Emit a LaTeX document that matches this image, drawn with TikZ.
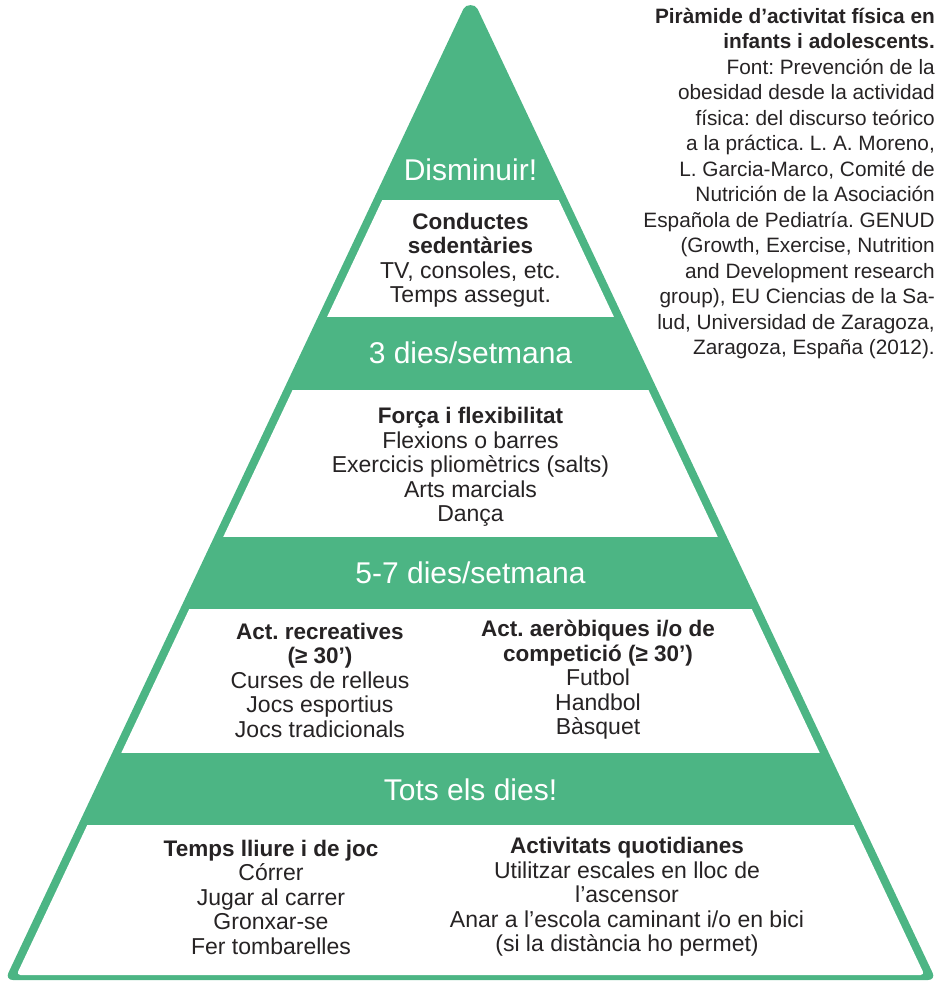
\documentclass[tikz,border=0pt]{standalone}
\usepackage{fontspec}
\setmainfont{Liberation Sans}
\frenchspacing

\definecolor{pyrgreen}{HTML}{4CB584}
\definecolor{pyrtext}{HTML}{262324}

\newcommand{\hd}[1]{{\fontsize{22.5}{24.5}\selectfont\bfseries #1}}

\tikzset{
  bandlabel/.style={text=white, inner sep=0pt, font=\fontsize{30}{32}\selectfont},
  blocktext/.style={text=pyrtext, align=center, inner sep=0pt, font=\fontsize{23}{24.5}\selectfont},
}

\begin{document}
\begin{tikzpicture}[x=1pt, y=-1pt]
  \useasboundingbox (0,0) rectangle (938,982);

  % green pyramid
  \fill[pyrgreen, rounded corners=8pt] (5,980) -- (460.1,16) .. controls (465.8,3.9) and (475.2,3.9) .. (480.9,16) -- (936,980) -- cycle;

  % white levels
  \begin{scope}
    \clip[rounded corners=4pt] (470.5,13) -- (924.5,975) -- (16.5,975) -- cycle;
    \fill[white] (0,200) rectangle (938,317);
    \fill[white] (0,390) rectangle (938,537);
    \fill[white] (0,609) rectangle (938,753);
    \fill[white] (0,825) rectangle (938,990);
  \end{scope}

  % band labels
  \node[bandlabel] (disminuir) at (470.5, 170) {Disminuir!};
  \node[bandlabel] (tres) at (470.5, 353) {3 dies/setmana};
  \node[bandlabel] (cinc) at (470.5, 573) {5-7 dies/setmana};
  \node[bandlabel] (tots) at (470.5, 790) {Tots els dies!};

  % level contents
  \node[blocktext] (sedentaries) at (470.5, 260) {\hd{Conductes}\\\hd{sedentàries}\\TV, consoles, etc.\\Temps assegut.};
  \node[blocktext] (forca) at (470.5, 467) {\hd{Força i flexibilitat}\\Flexions o barres\\Exercicis pliomètrics (salts)\\Arts marcials\\Dança};
  \node[blocktext] (recreatives) at (320, 680) {\hd{Act. recreatives}\\\hd{(≥ 30’)}\\Curses de relleus\\Jocs esportius\\Jocs tradicionals};
  \node[blocktext] (aerobiques) at (598, 680) {\hd{Act. aeròbiques i/o de}\\\hd{competició (≥ 30’)}\\Futbol\\Handbol\\Bàsquet};
  \node[blocktext] (lleure) at (271, 897) {\hd{Temps lliure i de joc}\\Córrer\\Jugar al carrer\\Gronxar-se\\Fer tombarelles};
  \node[blocktext] (quotidianes) at (627, 897) {\hd{Activitats quotidianes}\\Utilitzar escales en lloc de\\l’ascensor\\Anar a l’escola caminant i/o en bici\\(si la distància ho permet)};

  % source
  \node[blocktext, align=right, anchor=north east, font=\fontsize{20.8}{25.5}\selectfont] (font) at (935, 8)
    {\textbf{Piràmide d’activitat física en}\\\textbf{infants i adolescents.}\\Font: Prevención de la\\obesidad desde la actividad\\física: del discurso teórico\\a la práctica. L. A. Moreno,\\L. Garcia-Marco, Comité de\\Nutrición de la Asociación\\Española de Pediatría. GENUD\\(Growth, Exercise, Nutrition\\and Development research\\group), EU Ciencias de la Sa-\\lud, Universidad de Zaragoza,\\Zaragoza, España (2012).};
\end{tikzpicture}
\end{document}
